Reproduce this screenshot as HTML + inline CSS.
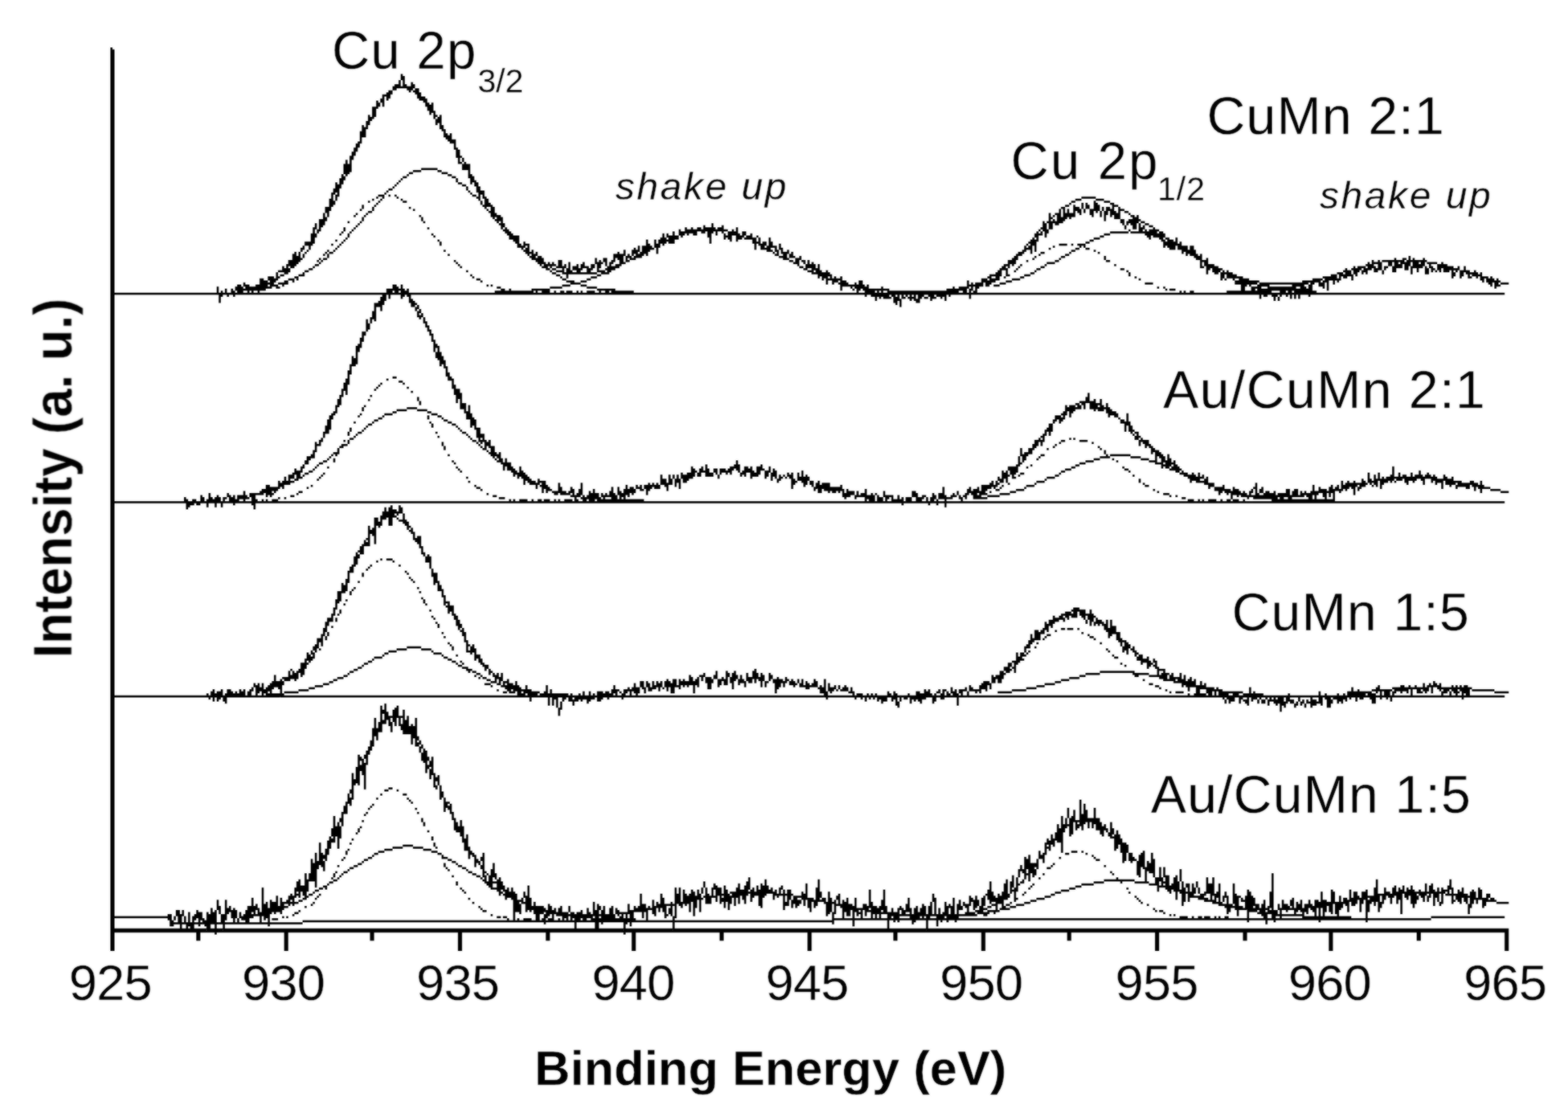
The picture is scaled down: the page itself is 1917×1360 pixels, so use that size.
<!DOCTYPE html>
<html lang="en"><head><meta charset="utf-8"><title>Cu 2p XPS spectra</title>
<style>
html,body{margin:0;padding:0;background:#fff;}
body{width:1917px;height:1360px;overflow:hidden;}
svg{display:block;}
text{font-family:"Liberation Sans",sans-serif;fill:#000;}
#plot path{fill:none;stroke:#000;stroke-width:1;stroke-linecap:butt;}
#labels text{stroke:#fff;stroke-width:0.3px;paint-order:fill stroke;}
</style></head><body>
<svg width="1917" height="1360" viewBox="0 0 1917 1360">
<defs>
<filter id="soft" filterUnits="userSpaceOnUse" x="0" y="0" width="1917" height="1360" color-interpolation-filters="sRGB"><feGaussianBlur in="SourceGraphic" stdDeviation="1.0" result="b"/><feComposite in="SourceGraphic" in2="b" operator="arithmetic" k1="0" k2="0.45" k3="0.55" k4="0"/></filter>
<filter id="softt" filterUnits="userSpaceOnUse" x="0" y="0" width="1917" height="1360" color-interpolation-filters="sRGB"><feGaussianBlur in="SourceGraphic" stdDeviation="1.1" result="b"/><feComposite in="SourceGraphic" in2="b" operator="arithmetic" k1="0" k2="0.4" k3="0.6" k4="0"/></filter>
</defs>
<rect width="1917" height="1360" fill="#fff"/>
<g id="plot" filter="url(#soft)">
<g transform="translate(0 0.4) scale(2.49935 2.50000)">
<path d="M54.5 23v442m1 -441v441m141 -429v3m1 -2v6m-2 -4v4m6 -3v4m-8 -3v3m1 -3v2m4 -2v2m4 -2v2m-10 -1v2m3.5 -1.5h1m2 0h2m-2 1h2m2.5 -.5v3m1 -3v5m-14 -4v4m1 -4v2m8.5 -1.5h1m1 0h1m-13.5 .5v4
m16 -4v4m-18 -3v6m.5 -5.5h1m17 1h2m-21.5 .5v2m19.5 -1.5h3m-24.5 .5v4m22.5 -3.5h2m-23.5 .5v2m22.5 -1.5h2m1.5 -.5v5m-3.5 -3.5h3m-28.5 .5v6m1 -6v5m25.5 -4.5h2m-2 1h2m-.5 .5v2m2 -2v4
m-32 -2v5m32.5 -4.5h1m1.5 -.5v7m-34 -6v2m33 -2v3m-1 -2v3m-34 -2v4m-2 -2v6m39 -6v3m-38 -2v5m39 -4v4m-41 -3v6m42 -5v3m2 -3v5m-1 -4v3m1.5 -.5h2m-47.5 .5v3m45.5 -2.5h2m-48.5 .5v4
m48 -4v3m-49 -1v4m50 -4v5m1 -4v7m-52 -6v4m-1 -2v8m53.5 -7.5h1m.5 .5v2m-57 -1v8m55.5 -6.5h1m1.5 -.5v4m-59 -3v5m2 -5v5m56 -5v3m2 -3v3m1 -3v7m-23.5 -4.5h8m-12 1h4m8 0h2m-16 1h2m14 0h3
m-51.5 .5v5m31.5 -4.5h1m19 0h2m9.5 -.5v5m-62 -4v2m28.5 -1.5h2m22 0h2m8.5 -.5v3m-65 -2v5m29.5 -4.5h1m26.5 -.5v2m-28.5 -.5h1m36.5 -.5v3m-68 -2v5m29.5 -4.5h1m29 0h2m7.5 -.5v5m-68 -4v6
m27.5 -5.5h1m32 0h2m-36 1h1m35.5 -.5v2m6 -2v7m-71 -6v3m26.5 -2.5h2m-3 1h1m39 0h1m5 0h2m-74.5 .5v7m25.5 -6.5h1m41 0h1m4 0h2m-72.5 .5v3m20.5 -2.5h3m2 0h1m2 0h1m37 0h2m3.5 -.5v2
m-52.5 -.5h1m2 0h1m6 0h1m38 0h1m3.5 -.5v6m291.5 -5.5h7m-374.5 .5v6m20.5 -5.5h1m3 0h1m9 0h1m41.5 -.5v4m287.5 -3.5h3m7 0h4m-376.5 .5v2m16.5 -1.5h1m4 0h1m11 0h2m36.5 -.5v2
m288.5 -1.5h2m9.5 -.5v5m4.5 -4.5h3m-359 1h1m54.5 -.5v2m283.5 -1.5h1m5.5 -.5v3m2 -3v3m5 -3v5m6.5 -4.5h2m-367.5 .5v2m5.5 -1.5h1m52 0h1m3.5 -.5v6m280.5 -5.5h2m2.5 -.5v6m7 -6v2m5 -2v3
m7 -3v5m.5 -4.5h2m-387.5 .5v3m1 -3v5m22 -5v2m17.5 -1.5h1m40.5 -.5v6m277.5 -5.5h2m5 0h2m11.5 -.5v2m2 -2v4m1 -4v2m5 -2v6m-371.5 -4.5h1m25 0h1m35 0h1m279.5 -.5v7m2 -7v6m2 -6v4
m3.5 -3.5h3m1.5 -.5v2m3 -2v3m1 -3v4m9 -4v4m4.5 -3.5h2m-370 1h2m57 0h1m287 0h2m9.5 -.5v3m2 -3v5m5 -5v4m4.5 -3.5h2m-393.5 .5v6m15.5 -5.5h1m4 0h1m62.5 -.5v2m271 -2v8m2.5 -7.5h2
m3.5 -.5v3m2 -3v3m1 -3v2m3.5 -1.5h1m17.5 -.5v3m5.5 -2.5h1m-380 1h1m4 0h1m26 0h1m37.5 -.5v4m1 -4v3m270.5 -2.5h1m1.5 -.5v5m35.5 -4.5h2m1.5 -.5v4m-397 -3v2m18 -2v2m29 -2v2m39 -2v6
m268.5 -5.5h1m4.5 -.5v3m35 -3v6m1 -6v6m-399 -5v6m1 -6v4m84.5 -3.5h1m272.5 -.5v2m32.5 -1.5h2m2 0h2m3 0h1m-388 1h1m5 0h1m30 0h1m302.5 -.5v5m1.5 -4.5h1m1.5 -.5v4m2 -4v2m31.5 -1.5h2
m1 0h3m4 0h2m-405.5 .5v3m20.5 -2.5h1m68 0h1m1.5 -.5v2m102 -2v5m163 -5v7m37.5 -6.5h1m1 0h1m1 0h1m3.5 -.5v5m2.5 -4.5h2m-388 1h1m169.5 -.5v4m9 -4v4m197 -4v2m9 -2v2m2.5 -1.5h2
m-410.5 .5v8m15 -8v2m4.5 -1.5h1m35 0h1m37.5 -.5v3m88 -3v3m3 -3v3m2.5 -2.5h2m2 0h3m1.5 -.5v2m1.5 -1.5h2m7.5 -.5v7m148.5 -6.5h1m48.5 -.5v3m6 -3v5m-409 -4v2m16.5 -1.5h1m73 0h1
m1.5 -.5v3m84 -3v3m4 -3v3m1 -3v2m1.5 -1.5h5m1 0h3m2 0h3m1 0h2m2.5 -.5v3m149.5 -2.5h1m3.5 -.5v2m39.5 -1.5h1m7.5 -.5v3m2 -3v5m1 -5v3m2 -3v4m.5 -3.5h1m-400 1h1m3 0h1m77.5 -.5v4
m80 -4v6m4 -6v3m1 -3v2m4.5 -1.5h2m2 0h1m2.5 -.5v3m1 -3v6m3 -6v2m6 -2v4m1 -4v5m2 -5v2m4 -2v3m1 -3v2m143 -2v5m2 -5v2m33.5 -1.5h9m1 0h4m2 0h1m1.5 -.5v3m6 -3v4m1 -4v5m-416 -4v6m2 -6v2
m11.5 -1.5h1m3.5 -.5v2m40.5 -1.5h1m38.5 -.5v3m74 -3v6m2 -6v2m12.5 -1.5h2m13.5 -.5v3m7 -3v3m6 -3v3m139 -3v2m1.5 -1.5h1m31 0h3m23.5 -.5v2m3 -2v2m-357.5 -.5h1m38 0h3m73.5 -.5v4m1 -4v4
m1.5 -3.5h2m23 0h1m6.5 -.5v2m2.5 -1.5h2m3 0h1m167 0h2m-371 1h1m81 0h3m69.5 -.5v3m2 -3v3m4.5 -2.5h2m32 0h3m1.5 -.5v3m1 -3v6m2 -6v4m5 -4v7m129 -7v4m29.5 -3.5h3m32 0h2m3.5 -.5v4
m-411.5 -2.5h1m3 0h1m45 0h1m36 0h3m62.5 -.5v8m4 -8v4m2 -4v4m3.5 -3.5h1m177.5 -.5v7m2 -7v6m26.5 -5.5h2m34.5 -.5v4m2 -4v4m1 -4v5m1 -5v5m-424.5 -3.5h3m15 0h1m47.5 -.5v2m36.5 -1.5h2
m2.5 -.5v3m113.5 -2.5h1m2.5 -.5v4m1 -4v2m3 -2v3m125.5 -2.5h1m27 0h2m37.5 -.5v2m4 -2v4m3 -4v4m-428.5 -2.5h3m10 0h1m3 0h1m86 0h2m2 0h2m58.5 -.5v4m4 -4v5m51 -5v3m9 -3v3m120.5 -2.5h1
m15 0h4m2 0h1m2 0h4m45.5 -.5v3m-428 -2v2m3 -2v2m13.5 -1.5h1m87 0h3m2.5 -.5v5m54 -5v3m2 -3v5m1 -5v4m3 -4v2m57 -2v3m2.5 -2.5h2m121.5 -.5v3m2 -3v2m11.5 -1.5h1m12 0h1m1 0h1m47.5 -.5v4
m1 -4v3m1 -3v5m2 -5v5m1 -5v5m-436 -4v2m16.5 -1.5h1m90 0h1m1.5 -.5v3m53 -3v3m8.5 -2.5h1m54 0h1m4.5 -.5v2m3 -2v3m119.5 -2.5h1m10 0h1m12 0h2m3 0h2m-383 1h1m9 0h1m2 0h1m53 0h1m38 0h1
m3.5 -.5v5m45 -5v3m4 -3v3m2 -3v4m65.5 -3.5h1m2.5 -.5v3m5 -3v2m115 -2v2m23.5 -1.5h2m9 0h1m45.5 -.5v2m3 -2v4m-440 -3v7m2 -7v5m2.5 -4.5h1m9 0h1m1 0h2m96 0h1m2.5 -.5v2m40 -2v4m11 -4v3
m64.5 -2.5h1m4.5 -.5v4m1 -4v4m3 -4v3m110.5 -2.5h2m9 0h2m12 0h1m13 0h1m-394.5 .5v7m5 -7v2m9.5 -1.5h1m1.5 -.5v2m58.5 -1.5h1m41.5 -.5v3m39 -3v4m1 -4v2m2 -2v6m1 -6v5m3 -5v2m5 -2v2
m66.5 -1.5h1m6.5 -.5v2m110.5 -1.5h3m8 0h1m12 0h2m62.5 -.5v3m2 -3v7m-442 -6v4m113.5 -3.5h1m3.5 -.5v4m1 -4v5m42 -5v3m2 -3v2m2 -2v2m70.5 -1.5h2m5 0h1m2.5 -.5v2m105 -2v4m1 -4v2
m8.5 -1.5h1m12 0h2m19.5 -.5v2m46 -2v2m103 -2v5m-542.5 -3.5h1m8 0h1m1 0h2m102.5 -.5v2m3 -2v3m26 -3v3m3.5 -2.5h2m12 0h1m75 0h1m3.5 -.5v3m1 -3v4m105 -4v4m9.5 -3.5h1m12 0h1m71.5 -.5v8
m92 -8v7m4 -7v3m.5 -2.5h1m3.5 -.5v5m5 -5v4m-555 -3v3m1 -3v4m12.5 -3.5h1m1 0h1m64 0h1m50.5 -.5v4m1 -4v4m19 -4v4m1.5 -3.5h2m2.5 -.5v2m7.5 -1.5h1m78 0h2m4 0h2m1.5 -.5v4m98 -4v4m1 -4v2
m7.5 -1.5h1m13 0h2m23 0h2m45 0h2m81.5 -.5v4m3 -4v5m1.5 -4.5h6m1.5 -.5v4m.5 -3.5h2m2.5 -.5v5m1.5 -4.5h1m1 0h4m1 0h1m-542 1h1m66 0h1m42.5 -.5v3m2 -3v2m2 -2v2m8 -2v6m7 -6v3m7 -3v5
m1.5 -4.5h1m1.5 -.5v2m2 -2v5m6.5 -4.5h1m82 0h1m4 0h1m3.5 -.5v6m114.5 -5.5h4m73.5 -.5v2m80 -2v4m2.5 -3.5h2m1.5 -.5v4m3.5 -3.5h2m4.5 -.5v3m2 -3v4m5 -4v3m1 -3v5m2 -5v3m2.5 -2.5h5
m2.5 -.5v3m-565 -2v5m13.5 -4.5h2m68 0h1m42.5 -.5v3m2 -3v2m1.5 -1.5h1m4.5 -.5v2m6 -2v5m2 -5v3m5 -3v3m1 -3v2m10.5 -1.5h2m91.5 -.5v3m2 -3v2m2 -2v3m2 -3v7m91 -7v3m.5 -2.5h1m6 0h1
m11 0h1m33 0h1m45 0h3m74 0h1m1.5 -.5v3m8.5 -2.5h2m3.5 -.5v2m10 -2v2m5 -2v2m4 -2v3m1 -3v4m2 -4v4m1 -4v4m-569 -3v3m14.5 -2.5h1m71 0h1m39 0h1m6 0h1m2.5 -.5v4m4.5 -3.5h2m4 0h2
m9.5 -.5v4m1.5 -3.5h4m88 0h2m97.5 -.5v2m7.5 -1.5h1m10 0h2m77 0h1m2 0h5m66.5 -.5v4m1.5 -3.5h4m4.5 -.5v3m4.5 -2.5h2m2.5 -.5v3m9 -3v4m7 -4v4m3 -4v3m7.5 -2.5h3m2.5 -.5v2m3 -2v3
m-577 -2v3m2 -3v2m9.5 -1.5h2m115 0h1m1 0h2m5.5 -.5v5m2.5 -4.5h2m1.5 -.5v3m4 -3v3m1 -3v3m7.5 -2.5h1m2 0h2m92 0h1m5.5 -.5v3m90 -3v4m3 -4v4m4.5 -3.5h1m9 0h2m39 0h2m41 0h1m1 0h5
m60.5 -.5v5m2.5 -4.5h1m1.5 -.5v4m.5 -3.5h2m1 0h2m4.5 -.5v2m3.5 -1.5h1m20.5 -.5v3m2.5 -2.5h1m6 0h5m-577 1h2m11 0h2m77 0h1m40 0h1m2 0h3m4.5 -.5v2m13.5 -1.5h3m99 0h2m4.5 -.5v3m3 -3v7
m84 -7v5m7.5 -4.5h1m9 0h1m44 0h1m41 0h4m1.5 -.5v4m2 -4v4m56.5 -3.5h1m1.5 -.5v3m1 -3v3m3.5 -2.5h1m1 0h3m7.5 -.5v2m25.5 -1.5h1m5 0h1m1.5 -.5v4m1.5 -3.5h1m1.5 -.5v4m1 -4v3m1.5 -2.5h2
m2.5 -.5v3m-586 -2v4m13 -4v2m121.5 -1.5h2m4 0h1m3 0h2m2 0h3m2 0h3m2 0h3m101 0h1m3.5 -.5v4m1 -4v3m2 -3v2m82 -2v4m16.5 -3.5h2m46.5 -.5v2m41.5 -1.5h2m1.5 -.5v4m1.5 -3.5h1m1.5 -.5v3
m1 -3v3m51.5 -2.5h3m9 0h1m1 0h1m42.5 -.5v2m5.5 -1.5h4m1.5 -.5v3m2 -3v4m-587.5 -2.5h2m7 0h2m82 0h1m41 0h2m18 0h2m112.5 -.5v3m78 -3v5m.5 -4.5h2m6 0h1m7 0h3m99.5 -.5v3m1 -3v2
m46.5 -1.5h3m1 0h3m3.5 -.5v3m57 -3v2m1.5 -1.5h1m2 0h1m-593 1h3m2 0h1m7 0h2m85 0h1m42 0h1m14 0h3m116.5 -.5v3m3 -3v7m71.5 -6.5h1m7 0h1m7 0h2m54 0h1m49 0h3m39 0h7m1.5 -.5v2m1.5 -1.5h1
m61 0h1m5 0h3m1.5 -.5v5m-602 -4v6m1 -6v6m2.5 -5.5h4m6 0h3m1 0h1m87 0h2m40 0h2m10 0h2m116 0h1m1.5 -.5v3m1.5 -2.5h2m69.5 -.5v4m.5 -3.5h2m2 0h2m8 0h4m58 0h1m41 0h1m6 0h5m31 0h5m1 0h7
m70.5 -.5v2m1.5 -1.5h2m1.5 -.5v2m2 -2v4m-603 -3v5m1 -5v4m2 -4v4m1 -4v3m.5 -2.5h1m4 0h2m2 0h1m91 0h1m41 0h4m3 0h3m122 0h1m2.5 -.5v3m1 -3v3m7 -3v5m1 -5v4m52 -4v4m7.5 -3.5h3m1 0h2
m5 0h3m109 0h12m21 0h9m1.5 -.5v4m.5 -3.5h2m2.5 -.5v2m1.5 -1.5h1m72 0h2m2.5 -.5v4m1.5 -3.5h1m-614.5 .5v2m11.5 -1.5h1m4 0h5m138 0h5m126 0h1m3.5 -.5v2m4 -2v3m57 -3v4m2 -4v6m1 -6v3
m1 -3v2m2.5 -1.5h2m5 0h3m68 0h4m40 0h11m1 0h24m1.5 -.5v6m.5 -5.5h1m2 0h2m2.5 -.5v4m78.5 -3.5h1m5 0h4m-621.5 .5v5m1 -5v5m3 -5v3m1 -3v5m4 -5v3m1 -3v5m7.5 -4.5h2m2 0h1m53.5 -.5v3
m1 -3v5m3 -5v7m41.5 -6.5h1m1 0h1m34 0h4m5 0h3m128 0h3m1.5 -.5v5m3 -5v3m2 -3v5m49.5 -4.5h1m1 0h1m5 0h2m2 0h3m118.5 -.5v5m1 -5v5m.5 -4.5h1m1 0h1m3 0h6m11 0h6m2.5 -.5v6m4.5 -5.5h2
m86 0h1m-627.5 .5v4m9 -4v2m3 -2v4m3.5 -3.5h3m6 0h1m3 0h2m57.5 -.5v4m48.5 -3.5h2m24 0h6m12 0h5m124 0h1m6.5 -.5v5m8 -5v5m35 -5v4m2.5 -3.5h4m93 0h1m2 0h1m42 0h5m3 0h14m2.5 -.5v4
m1 -4v4m1 -4v4m-528 -3v3m3 -3v3m5.5 -2.5h1m2 0h3m64 0h3m3 0h1m1.5 -.5v4m2 -4v4m46 -4v3m1 -3v3m3 -3v3m10.5 -2.5h9m23 0h9m116 0h1m7 0h6m1 0h3m28 0h3m1 0h6m1.5 -.5v5m95.5 -4.5h1m1 0h3
m37.5 -.5v3m1 -3v3m1.5 -2.5h21m3.5 -.5v3m-531 -2v3m6 -3v3m9 -3v2m65.5 -1.5h3m6.5 -.5v2m43.5 -1.5h3m2 0h2m1 0h11m1.5 -.5v2m2.5 -1.5h4m2.5 -.5v2m2.5 -1.5h2m1 0h3m2.5 -.5v2m2 -2v2
m2.5 -1.5h4m2.5 -.5v2m2.5 -1.5h2m1 0h11m115 0h3m1.5 -.5v3m4.5 -2.5h32m1 0h2m2 0h2m3.5 -.5v2m101 -2v2m2 -2v2m2.5 -1.5h2m16 0h7m2 0h3m2 0h8m4 0h3m1 0h2m1.5 -.5v4m.5 -3.5h2m6 0h2
m-588 1h50m1.5 -.5v5m1.5 -4.5h1m1 0h2m2 0h1m3 0h2m1 0h1m1 0h2m1 0h66m2 0h1m4 0h45m2 0h2m1 0h12m1 0h8m1 0h10m1 0h1m1 0h8m1 0h125m1 0h3m2 0h4m1.5 -.5v3m1.5 -2.5h34m1 0h7m1 0h1m2 0h99
m1 0h1m1 0h27m2 0h3m2 0h19m1 0h2m6 0h94m-625 1h1m75.5 -.5v5m1 -5v3m2 -3v2m10 -2v4m225.5 -3.5h3m3 0h3m1 0h2m1.5 -.5v3m2 -3v2m1.5 -1.5h1m1.5 -.5v3m2 -3v3m2 -3v4m.5 -3.5h2m2 0h3m1 0h5
m1 0h1m151.5 -.5v2m1.5 -1.5h2m2 0h3m1 0h1m2 0h1m1.5 -.5v2m4 -2v2m-449 -1v7m242 -7v2m3.5 -1.5h4m1.5 -.5v3m1 -3v4m3.5 -3.5h1m1 0h1m1 0h1m3 0h1m1 0h2m1 0h3m2 0h1m1.5 -.5v2m161 -2v2
m2 -2v2m-424 -1v4m239 -4v4m8 -4v2m6.5 -1.5h1m-270.5 .5v3m17 -3v3m-19 -2v9m1 -9v2m18.5 -1.5h1m.5 .5v2m-1 -1v2m2 -1v2m-23 -1v4m22 -4v3m2 -2v2m-1 -1v2m-24 -1v3m26 -3v3m-28 -2v6
m29 -5v3m-28 -2v3m29 -2v3m1 -1v3m-33 -2v5m1 -5v2m33 -1v4m-35 -2v5m36 -4v6m-37 -4v4m38 -4v2m-39 -1v9m40 -9v7m-1 -4v3m2 -3v7m-43 -5v5m44 -5v4m-43 -3v4m44 -3v4m-46 -2v5m47 -4v5
m-48 -3v7m49 -6v4m-27.5 -1.5h2m26.5 -.5v2m-51 -1v8m19.5 -7.5h1m31.5 -.5v5m-26.5 -3.5h2m-28.5 .5v4m17.5 -3.5h1m10 0h1m-13 1h1m36.5 -.5v5m-38.5 -3.5h1m14 0h1m-32.5 .5v4m15.5 -3.5h1
m39.5 -.5v7m1 -7v5m-23.5 -3.5h1m23.5 .5v8m307 -8v5m-366 -4v5m14.5 -4.5h1m22.5 .5v2m327 -2v3m-366 -2v4m14.5 -3.5h1m354.5 -.5v6m3 -6v6m-333 -5v2m322.5 -1.5h3m2.5 -.5v4m1 -4v4
m-308 -3v3m1 -3v5m298.5 -4.5h2m1 0h2m5.5 -.5v3m.5 -2.5h1m3.5 -.5v5m-377 -4v4m13.5 -3.5h1m50.5 -.5v7m292 -7v5m2 -5v6m1 -6v4m1 -4v3m1.5 -2.5h2m1.5 -.5v2m9 -2v3m-362 -2v2m21.5 -1.5h5
m318.5 -.5v2m3.5 -1.5h3m8.5 -.5v2m2.5 -1.5h1m1.5 -.5v5m-348.5 -3.5h5m5 0h5m334.5 -.5v3m-380 -2v2m28.5 -1.5h2m15 0h2m17.5 -.5v4m292 -4v4m23.5 -3.5h2m-383.5 .5v3m13.5 -2.5h1m11 0h4
m19 0h3m16.5 -.5v7m288.5 -6.5h1m24 0h3m4.5 -.5v6m-390 -5v7m13.5 -6.5h1m11 0h1m21.5 -.5v2m4.5 -1.5h2m300 0h3m26 0h2m-362 1h2m29 0h1m14.5 -.5v4m284.5 -3.5h4m27 0h1m-387.5 .5v7
m22.5 -6.5h2m32 0h2m13.5 -.5v5m282.5 -4.5h2m1 0h2m28 0h2m-377 1h1m8 0h1m27 0h1m8 0h2m294 0h1m2 0h1m29 0h3m1.5 -.5v5m-372.5 -3.5h2m29.5 -.5v2m9.5 -1.5h2m290.5 -.5v6m1 -6v4m36 -4v4
m-391 -3v4m19.5 -3.5h1m43 0h1m329.5 -.5v4m-382 -3v2m6.5 -1.5h1m45 0h1m8.5 -.5v5m1 -5v7m278 -7v2m-335.5 -.5h1m47 0h1m285.5 -.5v3m42.5 -2.5h1m-396.5 .5v3m12 -3v2m4.5 -1.5h2m36 0h1
m12 0h2m327 0h2m-383 1h1m53 0h1m6 0h2m273.5 -.5v4m43.5 -3.5h1m1.5 -.5v3m-383.5 -1.5h1m40 0h1m14 0h1m5 0h2m272 0h1m45.5 -.5v2m1.5 -1.5h1m-400.5 .5v2m13.5 -1.5h2m57 0h1m5.5 -.5v2
m272 -2v2m14.5 -1.5h1m1 0h1m32.5 -.5v2m-402 -1v3m11.5 -2.5h1m1.5 -.5v2m60.5 -1.5h2m2.5 -.5v2m2 -2v5m2 -5v4m267 -4v4m1 -4v3m2 -3v3m9.5 -2.5h2m7 0h4m25.5 -.5v3m1.5 -2.5h3m-407.5 .5v5
m62 -5v2m16.5 -1.5h1m4.5 -.5v2m279.5 -1.5h1m15 0h1m24 0h3m-407 1h1m11 0h3m64 0h1m270.5 -.5v3m10.5 -2.5h1m43 0h3m-397 1h2m49.5 -.5v2m17.5 -1.5h1m4.5 -.5v5m1 -5v6m273.5 -5.5h1m21 0h1
m22 0h1m1 0h2m-398.5 .5v3m70.5 -2.5h1m262.5 -.5v4m4 -4v3m1 -3v3m7.5 -2.5h1m25 0h1m24.5 -.5v3m1 -3v2m-411 -1v4m84.5 -3.5h1m301.5 -.5v2m25 -2v7m1 -7v3m-403.5 -1.5h2m74 0h1m2.5 -.5v2
m2 -2v5m257 -5v4m1 -4v2m65 -2v3m-415 -2v2m9.5 -1.5h1m1 0h1m54 0h1m23.5 -.5v2m257 -2v4m8.5 -3.5h2m30.5 -.5v2m1.5 -1.5h10m15.5 -.5v7m3 -7v7m-421 -6v4m1 -4v2m9.5 -1.5h1m336.5 -.5v5
m9.5 -4.5h1m29 0h3m1 0h1m10 0h5m11.5 -.5v3m-409.5 -1.5h1m2.5 -.5v2m78.5 -1.5h1m2.5 -.5v3m2 -3v4m259.5 -3.5h1m27 0h3m6 0h1m13 0h4m10.5 -.5v4m-423 -3v2m8.5 -1.5h2m61 0h1m21 0h1
m116.5 -.5v5m170.5 -4.5h4m11 0h1m15 0h3m5.5 -.5v4m4 -4v5m-418.5 -3.5h2m64 0h1m23.5 -.5v4m2 -4v4m1 -4v4m249.5 -3.5h1m28 0h3m35 0h2m5 0h1m-425.5 .5v2m6.5 -1.5h1m189.5 -.5v6m14 -6v2
m2 -2v4m11 -4v3m125 -3v4m6.5 -3.5h1m21 0h2m41 0h1m5.5 -.5v4m-428 -3v3m6.5 -2.5h1m5 0h1m62 0h1m26.5 -.5v3m4 -3v5m84 -5v6m5 -6v3m14 -3v4m1 -4v2m6 -2v5m1 -5v3m2 -3v6m3 -6v5m1 -5v4
m5 -4v3m116.5 -2.5h4m5 0h1m21 0h2m23 0h1m23.5 -.5v2m3 -2v3m105 -3v7m-537 -6v3m8.5 -2.5h1m70 0h1m26.5 -.5v4m88 -4v4m3 -4v4m4 -4v4m2.5 -3.5h2m1 0h3m1.5 -.5v2m10 -2v2m6.5 -1.5h1
m4.5 -.5v4m114.5 -3.5h4m24 0h3m26 0h2m20 0h1m4 0h1m-432.5 .5v5m1 -5v4m4.5 -3.5h2m72 0h1m26.5 -.5v2m3 -2v4m84.5 -3.5h1m3 0h1m4 0h2m1 0h4m7.5 -.5v2m5 -2v3m6 -3v4m1 -4v3m4 -3v4
m13 -4v6m98 -6v6m2 -6v6m1.5 -5.5h3m22 0h2m31 0h1m25.5 -.5v2m116 -2v4m-551 -3v3m5.5 -2.5h2m7 0h1m94.5 -.5v3m3 -3v6m77 -6v3m3 -3v4m1 -4v3m4 -3v2m5.5 -1.5h2m1 0h1m1 0h1m2 0h1
m6.5 -.5v2m7 -2v2m8 -2v4m8 -4v2m2 -2v8m3 -8v4m101 -4v3m2.5 -2.5h3m2 0h2m17 0h1m58 0h1m1 0h2m2.5 -.5v4m3 -4v5m83 -5v5m5 -5v4m10 -4v4m6 -4v4m8 -4v3m-557 -2v5m1 -5v2m5.5 -1.5h1m8 0h1
m99.5 -.5v3m66 -3v5m4 -5v5m2 -5v2m2 -2v4m3 -4v4m1 -4v4m11.5 -3.5h2m2.5 -.5v2m30 -2v3m1.5 -2.5h1m2.5 -.5v2m8 -2v5m98.5 -4.5h1m1.5 -.5v2m2.5 -1.5h1m17 0h2m36 0h1m24 0h4m1.5 -.5v3
m4 -3v2m84 -2v5m8 -5v4m5.5 -3.5h2m4.5 -.5v3m1 -3v2m2 -2v3m2 -3v2m2 -2v2m2 -2v3m5 -3v3m-567 -2v4m7.5 -3.5h1m8 0h1m71 0h1m29.5 -.5v3m123.5 -2.5h1m1 0h1m6.5 -.5v2m2 -2v5m2 -5v2
m93 -2v2m7.5 -1.5h1m15 0h4m65 0h2m2.5 -.5v3m1.5 -2.5h1m2.5 -.5v4m86 -4v4m2 -4v3m1 -3v2m2.5 -1.5h2m1 0h5m1.5 -.5v3m5 -3v4m4 -4v3m2 -3v4m5 -4v4m3 -4v4m-566.5 -2.5h1m10 0h1
m103.5 -.5v3m4 -3v3m61 -3v3m1 -3v4m3 -4v3m2 -3v4m2 -4v5m48 -5v2m8 -2v3m101 -3v2m21.5 -1.5h1m45.5 -.5v2m25 -2v2m7 -2v3m77 -3v4m4 -4v3m3 -3v4m2 -4v5m2 -5v2m5.5 -1.5h1m1 0h1m1 0h3
m13 0h3m2.5 -.5v3m1 -3v4m-573 -3v4m2 -4v4m2 -4v2m1.5 -1.5h2m85 0h1m30 0h2m2 0h3m122 0h1m6 0h2m2.5 -.5v6m85 -6v3m2 -3v3m19.5 -2.5h4m76 0h2m67.5 -.5v5m3 -5v4m3 -4v7m5 -7v3m3.5 -2.5h1
m10 0h1m4 0h2m14 0h3m5 0h4m4 0h2m3.5 -.5v6m-587 -5v2m122.5 -1.5h3m2.5 -.5v5m1 -5v3m7 -3v5m11 -5v6m33 -6v4m2 -4v2m2 -2v3m5 -3v4m69.5 -3.5h2m1.5 -.5v3m2.5 -2.5h4m78.5 -.5v3
m3.5 -2.5h1m4 0h1m12 0h1m52 0h1m31 0h3m20.5 -.5v8m44 -8v4m1.5 -3.5h2m1 0h3m2 0h1m19 0h1m16.5 -.5v3m5.5 -2.5h1m1 0h10m-592.5 .5v6m1 -6v5m20.5 -4.5h1m79 0h1m29.5 -.5v2m1.5 -1.5h1
m2.5 -.5v4m39 -4v5m5 -5v2m2 -2v3m1.5 -2.5h2m1.5 -.5v2m2 -2v2m2 -2v2m74.5 -1.5h1m3 0h5m5.5 -.5v3m69 -3v5m1 -5v5m1 -5v3m1 -3v2m3 -2v2m3.5 -1.5h1m11 0h4m54 0h2m29 0h3m4.5 -.5v3
m44 -3v5m9 -5v4m3 -4v3m3 -3v2m2.5 -1.5h2m1 0h1m1.5 -.5v2m5.5 -1.5h1m40 0h7m1 0h4m1.5 -.5v2m-593 -1v5m.5 -4.5h3m14 0h1m82 0h2m33.5 -.5v2m6 -2v4m5 -4v3m20 -3v8m3 -8v4m6 -4v3m1 -3v4
m2.5 -3.5h1m2 0h2m81.5 -.5v2m2.5 -1.5h10m50.5 -.5v6m13 -6v3m4 -3v3m10.5 -2.5h1m11 0h1m89 0h1m2 0h4m5.5 -.5v4m9.5 -3.5h1m3.5 -.5v3m28 -3v3m5 -3v5m3 -5v2m7.5 -1.5h1m2.5 -.5v2
m47.5 -1.5h1m4 0h2m2.5 -.5v2m1.5 -1.5h1m2 0h3m-600.5 .5v3m1 -3v2m3.5 -1.5h3m99 0h1m33 0h1m10.5 -.5v4m3 -4v4m7 -4v7m15 -7v7m2 -7v4m3 -4v2m3.5 -1.5h1m1.5 -.5v3m85 -3v2m1.5 -1.5h8
m1.5 -.5v4m2 -4v4m9 -4v7m50 -7v3m3 -3v5m1 -5v5m9.5 -4.5h2m8 0h4m63 0h1m29 0h4m1 0h3m2.5 -.5v3m1 -3v4m7 -4v2m4 -2v2m13 -2v4m1 -4v7m3 -7v4m1 -4v4m11.5 -3.5h3m3.5 -.5v7m3 -7v2
m73.5 -1.5h5m-614.5 .5v6m8 -6v2m6.5 -1.5h1m11 0h2m122 0h3m2 0h2m1.5 -.5v2m10 -2v6m10 -6v3m5 -3v6m101.5 -5.5h1m1 0h2m1 0h1m4 0h3m1.5 -.5v3m13 -3v3m14 -3v3m1 -3v3m21 -3v2m7 -2v2
m4 -2v4m4.5 -3.5h1m9 0h3m69 0h1m29 0h2m1 0h4m3.5 -.5v2m2 -2v3m3 -3v3m8 -3v4m1 -4v4m3 -4v6m9 -6v3m4 -3v3m2 -3v2m3 -2v6m2 -6v6m1 -6v2m1.5 -1.5h4m84 0h4m-635.5 .5v5m9 -5v2m10.5 -1.5h5
m6 0h1m11 0h1m92 0h1m32 0h2m2 0h3m4.5 -.5v2m7 -2v5m2 -5v3m1 -3v5m2 -5v2m2 -2v2m4 -2v5m4 -5v2m109 -2v3m1.5 -2.5h3m3 0h2m3.5 -.5v5m1.5 -4.5h1m19.5 -.5v5m8 -5v5m3 -5v3m1 -3v3m6 -3v2
m6 -2v3m9.5 -2.5h1m6 0h5m75 0h3m24 0h1m3 0h1m1.5 -.5v3m5 -3v2m2 -2v2m6 -2v3m3 -3v3m3 -3v3m1 -3v5m2.5 -4.5h4m8.5 -.5v2m1.5 -1.5h2m6 0h2m-550.5 .5v4m8 -4v4m6 -4v4m2 -4v5m2 -5v4
m.5 -3.5h2m1.5 -.5v2m1.5 -1.5h3m17 0h2m97 0h2m36 0h1m1.5 -.5v4m4 -4v4m2 -4v2m8 -2v4m1.5 -3.5h1m3.5 -.5v4m113.5 -3.5h1m2.5 -.5v2m1.5 -1.5h3m1 0h2m1.5 -.5v4m2 -4v4m3.5 -3.5h4
m2.5 -.5v4m11.5 -3.5h2m4.5 -.5v2m5 -2v6m3 -6v2m1.5 -1.5h1m1.5 -.5v2m1.5 -1.5h1m6.5 -.5v2m4.5 -1.5h6m83 0h1m2 0h1m34.5 -.5v2m1.5 -1.5h2m2 0h2m6 0h5m2.5 -.5v4m3.5 -3.5h1m3 0h2m6 0h2
m-558.5 .5v3m9 -3v3m4 -3v3m2 -3v5m2 -5v3m2 -3v3m.5 -2.5h1m2.5 -.5v3m3.5 -2.5h2m2 0h1m1.5 -.5v4m1 -4v6m11.5 -5.5h1m2 0h1m104 0h3m37 0h1m1.5 -.5v3m7 -3v3m130.5 -2.5h2m4.5 -.5v3
m1 -3v3m2 -3v3m.5 -2.5h1m1.5 -.5v3m5 -3v4m1.5 -3.5h3m3 0h3m1.5 -.5v3m2 -3v3m7.5 -2.5h2m5.5 -.5v3m9.5 -2.5h3m95 0h2m33 0h1m2 0h2m6.5 -.5v3m2 -3v3m1 -3v3m13 -3v3m8 -3v3m-557 -2v5
m3 -5v3m1 -3v2m6 -2v4m3 -4v2m11 -2v2m10 -2v2m3 -2v2m2 -2v2m2.5 -1.5h3m113.5 -.5v2m2 -2v2m2.5 -1.5h4m2.5 -.5v2m2.5 -1.5h2m1 0h3m2.5 -.5v2m2 -2v2m2.5 -1.5h4m2.5 -.5v2m12 -2v2
m1.5 -1.5h3m3.5 -.5v2m2 -2v2m1.5 -1.5h9m110.5 -.5v2m11.5 -1.5h2m1.5 -.5v2m2.5 -1.5h3m3 0h2m7.5 -.5v3m122.5 -2.5h3m2.5 -.5v2m2 -2v2m2.5 -1.5h4m2.5 -.5v2m2.5 -1.5h2m1 0h3m2.5 -.5v2
m17 -2v2m2.5 -1.5h2m2 0h8m2.5 -.5v2m1.5 -1.5h4m1 0h3m-596 1h34m2.5 -.5v3m1 -3v2m2.5 -1.5h2m2 0h1m7.5 -.5v3m1.5 -2.5h2m5 0h2m1 0h3m3 0h2m1 0h1m1 0h118m1 0h1m1 0h8m1 0h10m1 0h1m1 0h7
m2 0h2m2 0h1m3 0h1m4 0h3m7 0h117m1 0h1m3 0h1m3 0h1m1 0h2m1 0h2m3 0h6m1 0h4m1.5 -.5v2m2.5 -1.5h1m1 0h3m1 0h7m1 0h115m1 0h1m1 0h8m1 0h10m1 0h13m6 0h2m2 0h8m4 0h4m1 0h3m1 0h83
m-640 1h2m93.5 .5v10m4 -10v4m-7 -3v6m2 -6v9m6 -9v3m-4 -2v4m1 -4v2m-6 -1v4m2 -4v3m5 -3v2m3 -1v5m-11 -4v5m6.5 -4.5h1m-10.5 .5v13m1 -13v4m9.5 -3.5h1m0 1h2m1.5 -.5v3m-13 -2v3m14 -3v4
m-19 -2v10m19.5 -9.5h1m-18.5 .5v4m19 -4v3m-20 -2v2m18.5 -1.5h1m1.5 .5v4m2 -2v4m1 -4v6m-26.5 -4.5h1m23.5 -.5v2m-25 -1v3m1 -2v2m-2 -1v5m-1 -4v4m30 -4v4m-31.5 -1.5h1m-1.5 .5v6m33 -6v2
m-32 -1v2m34 -2v4m-36 -3v5m35 -5v3m2 -3v6m-24.5 -4.5h1m2 0h3m-8 1h1m7 0h1m-20.5 1.5v4m8.5 -3.5h1m13 0h1m-24.5 .5v3m8.5 -2.5h1m-2 1h1m31.5 -.5v4m-41 -3v6m27.5 -5.5h1m-21.5 .5v2
m21.5 -1.5h1m12.5 -.5v6m1 -6v5m-13.5 -2.5h1m-31.5 .5v6m31.5 -5.5h1m-27 1h1m26 0h1m11.5 -.5v5m-47 -4v5m1 -4v4m47 -4v3m-42.5 -1.5h1m30 0h1m-33 1h1m43.5 -.5v4m-51 -3v6m1 -6v5m5 -5v2
m33.5 -1.5h1m11.5 1.5v5m-11.5 -3.5h1m-42.5 .5v5m4.5 -4.5h1m37.5 -.5v2m10.5 -.5h2m-52 1h1m39 0h1m10.5 -.5v5m-1.5 -3.5h1m1.5 -.5v3m1 -3v5m-58 -4v4m362 -4v5m1 -5v5m1 -5v2m-361 -1v2
m43.5 -1.5h1m313 0h1m3 0h3m2.5 -.5v8m-12.5 -6.5h3m4 0h3m-368.5 .5v4m2.5 -3.5h1m56.5 -.5v3m296.5 -2.5h6m3 0h5m1.5 -.5v4m-323.5 -2.5h1m11.5 -.5v5m292 -5v4m2.5 -3.5h2m1 0h2m1 0h1
m4 0h2m1.5 -.5v2m2.5 -1.5h1m-375.5 .5v4m1 -4v2m3 -2v2m47.5 -1.5h1m303 0h5m1 0h1m7 0h1m5.5 -.5v3m-312 -2v5m289 -5v3m1 -3v4m1.5 -3.5h2m2 0h1m10.5 -.5v2m6 -2v3m1 -3v2m3 -2v6m2 -6v8
m-384 -7v5m53.5 -4.5h1m297.5 -.5v4m24 -4v2m4 -2v2m-325 -1v2m11 -2v2m287 -2v4m28 -4v3m-378.5 -1.5h1m381.5 -.5v4m1 -4v4m-387 -3v4m68 -4v4m284 -4v3m8.5 -2.5h2m1 0h3m2 0h1m14.5 -.5v5
m-317.5 -3.5h1m280.5 -.5v5m1 -5v5m2 -5v2m6.5 -1.5h1m-356.5 .5v2m55.5 -1.5h1m10.5 -.5v5m281 -5v4m20.5 -3.5h1m16.5 -.5v4m1 -4v5m-390 -4v6m347 -6v5m7.5 -4.5h2m18 0h1m-373.5 .5v2
m57.5 -1.5h1m293 0h1m21 0h2m-379.5 .5v5m1 -5v2m349 -2v2m4.5 -1.5h1m24 0h1m12.5 -.5v4m-320 -3v6m275 -6v4m45.5 -3.5h2m-332 1h1m287 0h1m30 0h1m11.5 -.5v4m1 -4v6m-397 -5v4m65.5 -3.5h1
m8 0h1m1.5 -.5v4m271 -4v2m50 -2v2m-399 -1v2m45.5 -1.5h7m15.5 -.5v2m9 -2v4m271 -4v3m4.5 -2.5h1m42.5 -.5v3m5 -3v3m-398.5 -1.5h1m37 0h5m7 0h5m21.5 -.5v6m308.5 -5.5h1m11 0h1
m-401.5 .5v2m37.5 -1.5h4m17 0h1m17 0h1m273 0h1m38 0h1m12.5 -.5v3m-405 -2v4m3 -4v3m34.5 -2.5h2m22 0h4m281.5 -.5v6m2 -6v4m1 -4v2m1.5 -1.5h1m53 0h1m-405.5 .5v4m35.5 -3.5h1m28 0h1
m6 0h1m9 0h2m266 0h1m42 0h1m12.5 -.5v3m1 -3v5m-406 -4v2m30.5 -1.5h4m30 0h2m14 0h2m263.5 -.5v3m46.5 -2.5h2m9.5 -.5v2m5 -2v6m-412 -5v5m32.5 -4.5h1m36 0h2m13 0h2m264 0h1m58 0h2
m3.5 -.5v2m-384.5 -.5h2m39 0h2m2 0h1m8 0h2m259 0h2m62 0h2m1.5 -.5v3m3 -3v4m-418 -3v7m1 -7v6m1.5 -5.5h1m27 0h2m43 0h1m2 0h1m8 0h2m256.5 -.5v5m1 -5v2m2 -2v5m51.5 -4.5h1m14 0h1
m-387 1h1m46 0h2m10 0h3m311 0h1m13 0h1m-390 1h2m49 0h3m8 0h2m252 0h2m2 0h1m70.5 -.5v5m-424.5 -3.5h1m3.5 -.5v2m26.5 -1.5h2m53 0h3m6 0h1m1.5 -.5v3m130 -3v7m121.5 -6.5h2m1 0h1m72 0h3
m-428.5 .5v5m2 -5v4m2 -4v4m25.5 -3.5h2m56 0h1m1 0h2m7 0h1m109.5 -.5v4m5 -4v7m4 -7v5m9 -5v4m121 -4v6m1 -6v4m1.5 -3.5h1m45 0h17m14.5 -.5v5m-425 -4v4m25.5 -3.5h1m62 0h2m6.5 -.5v2
m2 -2v3m2 -3v4m99 -4v2m12 -2v2m2 -2v8m7 -8v4m5 -4v3m2 -3v7m4 -7v4m114.5 -3.5h1m39 0h7m16 0h8m6.5 -.5v3m2 -3v4m.5 -3.5h1m1.5 -.5v4m4 -4v5m-443 -4v6m8 -6v2m25.5 -1.5h2m62 0h1m2 0h1
m6.5 -.5v4m95 -4v5m4.5 -4.5h2m5.5 -.5v2m11 -2v2m2 -2v4m11 -4v3m4 -3v2m108 -2v4m1.5 -3.5h2m39 0h3m24 0h2m5 0h4m1.5 -.5v2m5 -2v3m7 -3v5m-441.5 -3.5h3m24 0h3m66 0h1m1 0h2m6.5 -.5v4
m94 -4v4m3 -4v5m2 -5v2m1.5 -1.5h3m5.5 -.5v2m4 -2v3m9 -3v3m1 -3v3m4 -3v2m9 -2v6m4 -6v3m101.5 -2.5h3m34 0h5m46 0h3m5.5 -.5v5m-445 -4v9m1.5 -8.5h2m22 0h2m73 0h2m8.5 -.5v6m78 -6v6
m3 -6v7m1 -7v4m2 -4v5m2 -5v4m6 -4v3m4.5 -2.5h4m2.5 -.5v4m1 -4v3m2 -3v3m7 -3v3m2 -3v2m14.5 -1.5h2m1.5 -.5v4m1 -4v2m2.5 -1.5h1m1.5 -.5v3m3 -3v2m2 -2v4m6 -4v4m5 -4v9m83 -9v2m2 -2v2
m30.5 -1.5h4m36 0h1m11 0h1m2.5 -.5v2m2 -2v2m2 -2v4m3 -4v6m3 -6v4m-451 -3v4m2 -4v3m1 -3v4m2 -4v2m22.5 -1.5h2m77 0h2m4.5 -.5v3m.5 -2.5h1m4.5 -.5v5m61 -5v3m1 -3v4m2 -4v3m3 -3v4m2 -4v3
m2 -3v3m2 -3v3m2 -3v3m6 -3v2m1.5 -1.5h2m2.5 -.5v6m5.5 -5.5h4m15.5 -.5v3m10 -3v3m.5 -2.5h1m2 0h2m3.5 -.5v3m3 -3v2m2 -2v3m6 -3v4m5 -4v3m82 -3v4m1 -4v5m1 -5v2m32.5 -1.5h3m56 0h1
m4.5 -.5v3m3 -3v3m4 -3v4m114 -4v3m-577 -2v2m2 -2v5m2 -5v7m4 -7v7m25.5 -6.5h3m76 0h3m3 0h1m5.5 -.5v5m1 -5v3m60 -3v5m7 -5v4m5 -4v4m6 -4v5m6.5 -4.5h2m9.5 -.5v3m1 -3v3m32 -3v5
m9.5 -4.5h1m1.5 -.5v2m4 -2v3m2 -3v2m8 -2v4m75 -4v3m4 -3v3m26.5 -2.5h5m46 0h2m25.5 -.5v3m107 -3v4m3 -4v2m3 -2v2m2 -2v4m-579 -3v6m6 -6v3m22.5 -2.5h4m82 0h1m4 0h1m1.5 -.5v2m4 -2v4
m2 -4v6m4 -6v4m10 -4v6m33 -6v4m20 -4v2m10.5 -1.5h1m4 0h1m56 0h1m2 0h1m4.5 -.5v4m7 -4v2m2 -2v2m3 -2v3m61 -3v3m5 -3v4m27.5 -3.5h4m54 0h2m18.5 -.5v6m1 -6v6m2 -6v2m86 -2v3m11 -3v4
m1 -4v3m3 -3v2m3 -2v2m6 -2v3m2 -3v4m3 -4v2m7 -2v3m2 -3v6m2 -6v3m2 -3v4m1 -4v6m-594 -5v2m4 -2v2m3 -2v5m20.5 -4.5h3m100.5 -.5v5m53 -5v2m2 -2v2m2 -2v5m1 -5v3m3 -3v3m3 -3v2m5.5 -1.5h1
m75 0h1m1.5 -.5v3m4 -3v3m1 -3v2m5 -2v2m2 -2v2m2 -2v3m49 -3v3m7 -3v2m3 -2v2m26.5 -1.5h5m60 0h1m22 0h4m1.5 -.5v2m16 -2v5m50 -5v5m12 -5v3m7.5 -2.5h4m2 0h2m1.5 -.5v5m.5 -4.5h1m1 0h3
m1.5 -.5v3m7.5 -2.5h5m1.5 -.5v3m1.5 -2.5h1m1.5 -.5v6m3 -6v5m.5 -4.5h1m-615.5 .5v6m4 -6v4m3 -4v4m1 -4v4m5 -4v4m2 -4v4m3 -4v4m7 -4v2m16.5 -1.5h5m92 0h1m11 0h2m1.5 -.5v4m1 -4v6
m10 -6v4m30 -4v4m2 -4v4m.5 -3.5h1m2.5 -.5v4m1 -4v2m2 -2v4m100.5 -3.5h1m1 0h1m40.5 -.5v5m2 -5v4m5 -4v2m2 -2v5m.5 -4.5h1m4.5 -.5v4m1.5 -3.5h3m4 0h3m16 0h7m68 0h1m19 0h5m1.5 -.5v4
m1 -4v4m67 -4v4m6.5 -3.5h2m2 0h6m1 0h3m2 0h2m4 0h2m11 0h3m11 0h11m-627.5 .5v3m3 -3v5m1 -5v4m6 -4v3m2 -3v3m3 -3v3m3 -3v3m17.5 -2.5h7m100 0h2m2 0h1m5.5 -.5v3m3.5 -2.5h4m2.5 -.5v3
m19 -3v4m3 -4v5m4 -5v5m1 -5v5m1 -5v4m2 -4v3m1 -3v4m5.5 -3.5h1m100.5 -.5v4m10.5 -3.5h1m1.5 -.5v3m17 -3v3m3 -3v4m11 -4v4m1 -4v5m4 -5v3m4.5 -2.5h1m4.5 -.5v3m3 -3v3m2.5 -2.5h2
m2.5 -.5v3m3.5 -2.5h1m10 0h7m77 0h1m2 0h4m11 0h3m1.5 -.5v3m3.5 -2.5h10m5.5 -.5v4m32 -4v6m14 -6v3m1 -3v4m2 -4v3m1 -3v5m1.5 -4.5h6m4.5 -.5v4m1.5 -3.5h3m1.5 -.5v3m.5 -2.5h1m5 0h1
m4 0h3m9 0h3m1.5 -.5v3m3.5 -2.5h1m17 0h7m-636.5 .5v2m4 -2v2m5 -2v5m4 -5v2m2 -2v2m15 -2v2m1.5 -1.5h4m1.5 -.5v2m117 -2v2m4.5 -1.5h3m1 0h2m2.5 -.5v6m1.5 -5.5h8m1.5 -.5v4m4 -4v3m7 -3v3
m5 -3v2m3 -2v2m6 -2v3m114.5 -2.5h3m2.5 -.5v2m2 -2v2m2 -2v2m7 -2v2m3 -2v6m6 -6v2m6 -2v5m1 -5v3m4 -3v2m2 -2v4m3 -4v3m4 -3v2m4 -2v6m2 -6v2m111 -2v2m3 -2v2m2.5 -1.5h3m1 0h2m5 0h3
m2.5 -.5v4m.5 -3.5h2m2 0h3m1.5 -.5v4m1.5 -3.5h4m12.5 -.5v4m18 -4v3m6 -3v5m3 -5v3m7.5 -2.5h3m1 0h4m4 0h3m25.5 -.5v2m-649.5 -.5h45m1.5 -.5v2m7 -2v3m10.5 -2.5h1m2 0h2m1 0h2m1 0h1
m3 0h4m2 0h114m4 0h1m2 0h6m4 0h9m1 0h3m1.5 -.5v3m1.5 -2.5h2m1.5 -.5v2m1.5 -1.5h1m8 0h1m1 0h2m2 0h2m1 0h2m1 0h91m2 0h12m1 0h6m1.5 -.5v2m2 -2v2m1.5 -1.5h5m2.5 -.5v3m2.5 -2.5h5
m1.5 -.5v4m.5 -3.5h2m8.5 -.5v4m1.5 -3.5h2m2 0h1m2 0h1m3 0h1m1 0h2m1 0h107m1 0h2m3 0h7m1 0h1m2 0h5m1 0h7m3 0h16m1 0h14m1.5 -.5v5m.5 -4.5h1m1.5 -.5v6m1 -6v6m.5 -5.5h3m1.5 -.5v3
m1 -3v4m2 -4v3m6.5 -2.5h10m1 0h5m1 0h8m1 0h14m1 0h3m1 0h2m1 0h2m1 0h1m2 0h17m-465.5 .5v4m.5 -3.5h2m2 0h2m1.5 -.5v2m2.5 -1.5h2m3 0h2m130 0h1m2 0h1m1.5 -.5v2m5.5 -1.5h5m6.5 -.5v2
m1.5 -1.5h2m2 0h2m150 0h1m1 0h3m3.5 -.5v3m.5 -2.5h1m2.5 -.5v4m3.5 -3.5h1m1 0h1m2 0h1m1.5 -.5v2m2 -2v3m1.5 -2.5h3m1.5 -.5v3m6 -3v2m6 -2v5m10.5 -4.5h2m11 0h2m3 0h3m5 0h1m1.5 -.5v2
m-408 -1v4m2.5 -3.5h1m4 0h3m4.5 -.5v2m141.5 -1.5h1m1 0h3m13 0h1m151.5 -.5v2m1.5 -1.5h2m5 0h2m5.5 -.5v2m1.5 -1.5h2m1.5 -.5v3m1.5 -2.5h1m1 0h4m3 0h2m4.5 -.5v2m2 -2v2m3 -2v3m1 -3v3
m8 -3v2m19.5 -1.5h2m-398.5 .5v4m6 -4v2m150.5 -1.5h1m7.5 -.5v3m161.5 -2.5h1m7 0h1m7 0h2m5 0h5m2 0h2m1.5 -.5v2m2 -2v2m3.5 -1.5h1m3 0h1m26 0h2m-484.5 .5v10m435.5 -9.5h1m1.5 -.5v4
m.5 -3.5h2m4.5 -.5v2m5 -2v2m-452 -1v13m8 -13v6m433.5 -5.5h1m-435.5 .5v9m80 -9v4m-86 -3v2m5 -2v6m5 -6v12m-8 -11v4m1 -2v5m.5 -4.5h1m3.5 -.5v5m.5 -4.5h1m2.5 -.5v9m-16 -8v9m20 -9v14
m-16 -13v2m11 -2v7m-13 -6v5m6 -5v5m5 -4v3m5 -3v10m-1 -9v4m2 -4v6m-20 -5v9m2 -9v6m20 -2v2m-23 0v5m24 -5v2m-1 -1v2m2 -1v2m-26 -1v4m25 -4v3m2 -2v7m-28 -6v7m29 -7v11m-2 -10v4m-31 -3v15
m3 -15v2m-2 -1v2m33 -2v2m2 -2v9m-34 -8v8m33 -7v3m-32 -2v13m-2 -12v3m33 -3v2m-35 -1v8m36 -7v5m-38 -3v13m40 -13v7m2 -6v5m-1 -4v2m-40 -1v3m40 0v2m2 -2v7m-25.5 -5.5h2m-20.5 .5v2
m16.5 -1.5h2m4 0h1m21.5 .5v3m-46 -2v5m15.5 -4.5h1m10 0h2m-27.5 1.5v4m12.5 -3.5h1m14 0h1m17.5 -.5v7m-17.5 -5.5h1m327.5 -.5v13m-359 -12v6m31.5 -5.5h1m16.5 -.5v3m.5 -2.5h1m-38 1h1
m37.5 -.5v5m310 -5v10m-362 -9v4m12.5 -3.5h1m37.5 -.5v2m-39.5 -.5h1m22 0h1m318.5 -.5v5m13 -5v8m-10 -7v6m6 -6v6m-364 -5v7m11.5 -6.5h1m24 0h1m16.5 -.5v4m-43.5 -2.5h1m350.5 -.5v8
m-366 -7v13m356 -13v18m5 -18v9m-358 -8v2m40 -2v2m16 -2v6m299 -6v5m2 -5v9m9 -9v5m.5 -4.5h2m1.5 -.5v6m1 -6v6m-360.5 -4.5h1m47.5 -.5v8m301 -8v5m.5 -4.5h1m5 0h2m-369.5 .5v13m42 -13v2
m16 -2v5m311 -5v3m4 -3v6m5 -6v8m-26 -7v9m3 -9v4m1.5 -3.5h1m4.5 -.5v2m13 -2v3m-376 -2v5m2 -5v6m9.5 -5.5h1m47.5 -.5v3m2 -3v8m313 -8v5m-377 -4v4m13 -4v2m343 -2v7m23 -7v2m3 -2v3
m-335.5 -1.5h1m336.5 -.5v9m-372.5 -7.5h1m341.5 -.5v4m26 -4v2m-314 -1v8m286 -8v5m31 -5v8m2 -8v5m-386 -4v6m50 -6v2m332.5 -1.5h1m-382.5 .5v2m9.5 -1.5h1m54.5 -.5v6m285 -6v3m3 -3v4
m33 -4v7m-388 -6v7m353 -7v5m-357 -4v11m14.5 -10.5h1m40.5 -.5v2m299 -2v6m38 -6v10m1 -10v9m-353.5 -7.5h5m349.5 -.5v4m-359.5 -2.5h5m5 0h5m6 0h1m15.5 -.5v6m282.5 -5.5h1m-353.5 .5v6
m10.5 -5.5h1m17 0h4m15 0h4m-41.5 .5v2m15.5 -1.5h3m23 0h3m16.5 -.5v2m278 -2v4m15.5 -3.5h3m2 0h1m29.5 -.5v9m-405 -8v17m3 -17v7m25.5 -6.5h2m29 0h2m15.5 -.5v2m5 -2v12m274 -12v5
m10.5 -4.5h2m8 0h1m20.5 -.5v4m1 -4v5m5 -5v7m5 -7v10m-405 -9v2m23.5 -1.5h1m33.5 -.5v2m16 -2v6m271 -6v13m6 -13v2m24.5 -1.5h1m22.5 -.5v11m-389.5 -9.5h1m11 0h2m35 0h2m16.5 -.5v2
m266 -2v11m16.5 -10.5h1m16 0h1m18.5 -.5v2m-402 -1v11m14.5 -10.5h1m10 0h2m39 0h2m12.5 -.5v2m269 -2v5m5 -5v5m28.5 -4.5h2m17 0h1m8.5 -.5v9m-409 -8v4m3 -4v5m18.5 -4.5h1m43 0h2
m11.5 -.5v2m322 -2v7m5 -7v5m-408 -4v9m21.5 -8.5h2m40.5 -.5v2m5.5 -1.5h1m17.5 -.5v7m263 -7v5m1 -5v7m1 -7v2m8.5 -1.5h1m46.5 -.5v5m-397.5 -3.5h1m7 0h2m49 0h2m9.5 -.5v2m264 -2v3
m14.5 -2.5h1m25 0h1m-370 1h2m45 0h1m7 0h2m284 0h2m46.5 -.5v8m7 -8v7m2 -7v5m-399.5 -3.5h1m48 0h1m8 0h1m11.5 -.5v10m258 -10v4m2 -4v2m6 -2v3m71 -3v6m-413.5 -4.5h1m3 0h2m59 0h2m6 0h1
m305 0h1m-394.5 .5v13m2 -13v4m12 -4v2m3.5 -1.5h1m63 0h2m5 0h1m3.5 -.5v3m259.5 -2.5h1m7 0h1m33 0h1m77.5 -.5v23m-456.5 -21.5h1m54 0h1m11 0h2m2.5 -.5v4m2 -4v6m256 -6v6m75 -6v7m1 -7v8
m4 -8v12m-413.5 -10.5h1m2 0h1m69 0h1m8.5 -.5v9m122 -9v6m131 -6v7m10.5 -6.5h1m37.5 -.5v2m19 -2v4m1 -4v7m2 -7v5m6 -5v7m16 -7v8m3 -8v9m-447 -8v9m4 -9v6m12.5 -5.5h2m71 0h1m6.5 -.5v6
m131 -6v8m26 -8v11m92 -11v10m8 -10v2m39.5 -1.5h6m1 0h8m118.5 -.5v11m36 -11v5m-564 -4v5m15.5 -4.5h2m60.5 -.5v2m15 -2v2m2.5 -1.5h2m2.5 -.5v4m99 -4v3m21 -3v7m119 -7v11m10 -11v6
m4.5 -5.5h1m35 0h5m8 0h1m6 0h5m1 0h1m7 0h1m6.5 -.5v5m2 -5v12m7 -12v3m-425.5 -1.5h1m188.5 -.5v3m12 -3v10m11 -10v12m22 -12v8m97 -8v8m6.5 -7.5h1m6 0h1m23 0h6m27 0h3m8.5 -.5v3
m6.5 -2.5h2m1.5 -.5v7m8 -7v5m1 -5v9m4 -9v11m7 -11v10m94 -10v6m3 -6v5m-553 -4v3m1 -3v5m9.5 -4.5h2m86.5 -.5v3m12 -3v12m92 -12v8m4 -8v11m10 -11v9m6 -9v5m3 -5v6m2 -6v4m7 -4v2
m121.5 -1.5h1m21 0h3m38 0h1m1 0h1m2.5 -.5v4m7.5 -3.5h2m100.5 -.5v5m4 -5v4m4 -4v9m9 -9v6m9 -6v5m-580 -4v14m16 -14v5m11.5 -4.5h2m1 0h1m65 0h1m15 0h2m5.5 -.5v5m2 -5v6m80 -6v15m2 -15v9
m11 -9v3m2 -3v8m3 -8v5m3 -5v4m1 -4v8m8 -8v5m8 -5v5m9 -5v3m4 -3v4m18 -4v9m97 -9v7m6.5 -6.5h1m19 0h3m25 0h1m27.5 -.5v7m2 -7v7m3 -7v3m2 -3v3m86 -3v9m5 -9v6m4 -6v5m3 -5v6m4 -6v6
m15 -6v7m2 -7v8m5 -8v8m5 -8v5m8 -5v6m-569.5 -4.5h2m70 0h1m20.5 -.5v5m87 -5v7m4 -7v6m3 -6v5m14 -5v6m7 -6v3m1 -3v5m4 -5v6m4 -6v8m5 -8v2m3 -2v3m4 -3v10m2 -10v8m1 -8v5m39 -5v9m7 -9v12
m51 -12v5m11.5 -4.5h1m23 0h4m54.5 -.5v2m33 -2v16m41 -16v12m9 -12v6m8 -6v16m17 -16v12m4 -12v3m2 -3v9m3 -9v3m7 -3v8m4.5 -7.5h2m5.5 -.5v6m7 -6v7m4 -7v5m-571.5 -3.5h1m73 0h1m17 0h1
m3.5 -.5v3m2 -3v15m5 -15v3m83 -3v12m17.5 -11.5h3m6 0h1m2.5 -.5v2m9 -2v4m14 -4v4m9 -4v3m4 -3v11m80 -11v5m5 -5v9m10.5 -8.5h1m14 0h3m33 0h1m27 0h1m1.5 -.5v3m7 -3v2m6 -2v3m4 -3v3
m12 -3v10m10 -10v8m25 -8v8m6 -8v6m10 -6v7m1 -7v6m3 -6v6m1 -6v4m10.5 -3.5h2m3.5 -.5v6m4 -6v3m5 -3v6m.5 -5.5h1m1.5 -.5v3m1 -3v5m1.5 -4.5h1m3.5 -.5v3m1.5 -2.5h1m1 0h1m7.5 -.5v6m5 -6v8
m2 -8v4m-579 -3v3m2.5 -2.5h1m5 0h2m3 0h1m89 0h1m5.5 -.5v9m61 -9v9m10 -9v7m8 -7v5m4 -5v6m2 -6v9m5 -9v9m4 -9v5m6.5 -4.5h1m2.5 -.5v8m1.5 -7.5h2m20.5 -.5v2m1.5 -1.5h1m1 0h1m2 0h1
m5.5 -.5v6m17 -6v6m46 -6v4m25.5 -3.5h1m5.5 -.5v5m5 -5v2m6.5 -1.5h1m13 0h2m71.5 -.5v3m1 -3v3m6 -3v5m10 -5v8m70 -8v9m.5 -8.5h2m1 0h3m26 0h1m1 0h1m1 0h2m3.5 -.5v4m1 -4v5m10 -5v4
m1 -4v2m-593 -1v8m6 -8v5m2 -5v5m6.5 -4.5h1m4 0h1m101.5 -.5v8m79 -8v4m4 -4v6m3.5 -5.5h1m2.5 -.5v4m1.5 -3.5h1m7.5 -.5v4m.5 -3.5h2m28 0h4m17.5 -.5v2m65 -2v5m3 -5v6m4 -6v5m5 -5v3
m3 -3v4m21.5 -3.5h3m41 0h1m28 0h3m11.5 -.5v3m2 -3v9m5 -9v10m.5 -9.5h1m2.5 -.5v7m3 -7v8m43 -8v7m9 -7v2m4.5 -1.5h3m4.5 -.5v4m2.5 -3.5h2m12.5 -.5v2m5 -2v3m14 -3v2m5.5 -1.5h1
m-595.5 .5v7m14 -7v8m10.5 -7.5h1m5 0h1m74 0h1m25.5 -.5v3m4 -3v7m65 -7v7m18.5 -6.5h1m9.5 -.5v2m6 -2v4m29 -4v3m1 -3v5m6 -5v5m1 -5v7m1 -7v2m4.5 -1.5h2m2.5 -.5v7m8 -7v9m4 -9v7m26 -7v7
m13 -7v9m9 -9v11m9 -11v2m5 -2v8m7 -8v7m9.5 -6.5h1m9 0h4m45 0h1m29 0h1m2 0h2m16.5 -.5v2m6 -2v4m19 -4v6m25 -6v3m1 -3v4m3 -4v4m4 -4v7m5 -7v3m1 -3v2m9 -2v3m42 -3v3m3 -3v5m1 -5v4
m2.5 -3.5h2m-624.5 .5v5m4 -5v10m22 -10v7m8 -7v2m5.5 -1.5h2m105.5 -.5v6m.5 -5.5h1m64.5 -.5v7m68 -7v4m3 -4v3m1 -3v2m7 -2v4m2.5 -3.5h3m4.5 -.5v7m4 -7v10m19 -10v5m38 -5v5m7 -5v5m2 -5v3
m25.5 -2.5h3m50 0h1m31 0h3m1.5 -.5v2m14.5 -1.5h1m9.5 -.5v10m9 -10v5m4 -5v3m5 -3v6m4 -6v4m3 -4v10m1 -10v4m3 -4v10m1 -10v6m11 -6v6m10 -6v6m41.5 -5.5h1m16 0h4m-601.5 .5v8m3 -8v5
m1 -5v6m4 -6v4m.5 -3.5h1m2 0h1m1 0h2m7 0h1m77 0h1m24 0h1m4.5 -.5v6m29 -6v7m31 -7v3m7 -3v7m5 -7v3m51 -3v2m18.5 -1.5h2m2 0h1m5.5 -.5v5m13 -5v9m29 -9v7m7 -7v7m9 -7v2m22.5 -1.5h1m6 0h3
m54 0h1m36 0h1m1.5 -.5v2m37 -2v5m11 -5v10m3.5 -9.5h2m2.5 -.5v6m1 -6v9m2 -9v3m19 -3v3m29 -3v2m27.5 -1.5h6m-612.5 .5v3m4 -3v8m22.5 -7.5h1m101.5 -.5v5m14 -5v6m24 -6v14m15 -14v5m7 -5v7
m1 -7v4m7 -4v4m3 -4v7m.5 -6.5h2m1 0h1m74.5 -.5v6m4.5 -5.5h1m1.5 -.5v2m4 -2v6m1 -6v3m6 -3v3m1 -3v6m20 -6v4m8 -4v8m13 -8v2m4 -2v8m3.5 -7.5h2m11 0h2m5 0h2m3 0h4m60 0h1m36 0h2
m1.5 -.5v4m1 -4v2m12 -2v4m1 -4v3m2 -3v6m8 -6v3m3 -3v3m1 -3v4m6 -4v3m3 -3v4m1 -4v5m2 -5v3m7.5 -2.5h2m67.5 -.5v5m-611 -4v4m5 -4v3m9 -3v9m1 -9v6m2 -6v5m12 -5v3m2.5 -2.5h2m8 0h1m84 0h1
m25.5 -.5v2m2 -2v8m1 -8v8m1 -8v4m1 -4v4m4 -4v4m5 -4v5m4 -5v3m15 -3v2m2 -2v8m4 -8v8m11 -8v3m2 -3v3m5 -3v2m3 -2v5m97 -5v10m7 -10v3m3 -3v4m1 -4v7m2 -7v7m3 -7v4m7 -4v2m8 -2v7m4 -7v5
m2 -5v7m9 -7v8m2 -8v7m5 -7v2m1.5 -1.5h2m5.5 -.5v4m3.5 -3.5h2m6.5 -.5v2m2.5 -1.5h3m102 0h1m3 0h1m2 0h2m12.5 -.5v4m10 -4v2m12 -2v3m8 -3v3m-547 -2v8m8 -8v3m3 -3v8m12 -8v4m5 -4v9
m103.5 -8.5h1m30.5 -.5v2m5 -2v3m2 -3v4m14 -4v5m11 -5v7m3 -7v3m10 -3v2m5 -2v7m1.5 -6.5h1m8.5 -.5v3m92 -3v4m.5 -3.5h2m7.5 -.5v3m7 -3v4m3 -4v7m2 -7v4m4 -4v6m2 -6v7m3 -7v4m9 -4v6
m14 -6v4m7.5 -3.5h2m6 0h1m2 0h2m70 0h1m41 0h3m4.5 -.5v2m3 -2v3m2.5 -2.5h1m6.5 -.5v6m4.5 -5.5h1m1.5 -.5v4m4 -4v6m-551 -5v3m1 -3v7m2 -7v3m7 -3v4m9 -4v12m8 -12v4m2 -4v4m5 -4v7
m25.5 -6.5h1m89 0h2m29.5 -.5v4m3 -4v6m14 -6v4m7 -4v11m3 -11v7m8 -7v3m6 -3v8m1 -8v6m112 -6v5m3.5 -4.5h1m16.5 -.5v3m34.5 -2.5h2m4 0h4m1 0h1m76 0h1m1 0h2m52.5 -.5v2m2 -2v6m1 -6v3
m-532 -2v7m5 -7v7m1 -7v4m3 -4v10m3 -10v6m13 -6v3m10 -3v6m16.5 -5.5h2m126.5 -.5v2m3 -2v5m1 -5v3m1 -3v5m2 -5v5m1 -5v3m2 -3v5m1 -5v5m5 -5v3m14.5 -2.5h4m100.5 -.5v6m12.5 -5.5h1m10 0h1
m2.5 -.5v10m1 -10v4m2 -4v5m1 -5v4m11 -4v4m12 -4v4m11 -4v2m1.5 -1.5h3m1 0h1m2 0h3m2 0h1m82 0h1m45 0h1m3.5 -.5v6m-537 -5v3m1 -3v6m5 -6v9m7 -9v3m7 -3v9m6 -9v5m1 -5v9m10 -9v3m4 -3v2
m1.5 -1.5h1m17 0h1m96 0h1m25.5 -.5v5m11.5 -4.5h1m2.5 -.5v9m4 -9v4m1 -4v4m3 -4v4m3.5 -3.5h1m2.5 -.5v4m1 -4v4m3 -4v4m4 -4v4m2 -4v5m19.5 -4.5h1m113 0h1m2 0h2m1.5 -.5v5m7 -5v9
m2.5 -8.5h1m1.5 -.5v6m2 -6v4m4 -4v3m3 -3v4m1.5 -3.5h3m2 0h4m3 0h2m89 0h1m1 0h1m50 0h1m1 0h6m1 0h3m-581 1h26m3.5 -.5v2m5 -2v4m4 -4v8m24 -8v2m19.5 -1.5h1m1 0h1m102 0h2m1 0h2
m55.5 -.5v3m26 -3v8m247.5 -7.5h4m2.5 -.5v2m2.5 -1.5h2m1 0h3m2.5 -.5v2m2 -2v2m2.5 -1.5h2m37 0h5m1.5 -.5v2m2 -2v2m1.5 -1.5h6m1 0h6m39 0h36m-636.5 .5v3m17 -3v3m16.5 -2.5h3m112.5 -.5v2
m5 -2v2m2.5 -1.5h4m5.5 -.5v2m2.5 -1.5h2m3.5 -.5v2m17 -2v2m3 -2v2m7.5 -1.5h2m2.5 -.5v8m2 -8v2m3 -2v2m97.5 -1.5h4m1 0h4m1 0h3m1 0h4m1 0h1m1 0h1m1 0h3m2 0h1m3 0h5m5 0h1m1 0h1m2 0h3
m4 0h1m6 0h114m1 0h10m1 0h1m1 0h13m1 0h7m2 0h2m2 0h2m1 0h10m1 0h5m5 0h6m1 0h13m1 0h31m-615.5 .5v3m16 -3v3m47.5 -2.5h100m1 0h2m1 0h1m1 0h8m2 0h1m2 0h3m1 0h2m1 0h1m1 0h1m1 0h1m1 0h1
m3 0h1m2 0h2m12 0h2m8 0h5m1 0h12m1 0h77m-322 1h2m2 0h1m1.5 -.5v5m2 -5v5m1.5 -4.5h2m1 0h1m7 0h2m2 0h4m1 0h1m1 0h3m2 0h5m1 0h3m1 0h16m-92 3h32m1 0h2m1.5 -.5v2m2.5 -1.5h6m2 0h2m1 0h3
m1 0h171m1 0h9m2 0h12m1 0h23m1 0h104m1 0h18m1 0h284m-682 1h32m1 0h2m4 0h6m2 0h2m1 0h3m1 0h171m1 0h9m2 0h12m1 0h23m1 0h104m1 0h18m1 0h284m-641.5 .5v4m1 -4v4m42 -4v9m1 -9v9m41 -9v4
m1 -4v4m42 -4v9m1 -9v9m42 -9v4m1 -4v4m41 -4v9m1 -9v9m42 -9v4m1 -4v4m42 -4v9m1 -9v9m41 -9v4m1 -4v4m42 -4v9m1 -9v9m41 -9v4m1 -4v4m42 -4v9m1 -9v9m42 -9v4m1 -4v4m41 -4v9m1 -9v9m42 -9v4
m1 -4v4m42 -4v9m1 -9v9"/>
</g>
</g>
<g id="labels" filter="url(#softt)">
<text x="405.8" y="84.0" font-size="64.0" textLength="176.0" lengthAdjust="spacing">Cu 2p</text>
<text x="584.0" y="112.6" font-size="40.5" textLength="56.0" lengthAdjust="spacing">3/2</text>
<text x="1235.8" y="218.8" font-size="64.0" textLength="179.5" lengthAdjust="spacing">Cu 2p</text>
<text x="1415.0" y="245.0" font-size="40.5" textLength="58.0" lengthAdjust="spacing">1/2</text>
<text x="752.5" y="244.1" font-size="47.0" textLength="209.0" lengthAdjust="spacing" font-style="italic">shake up</text>
<text x="1613.5" y="255.1" font-size="47.0" textLength="209.0" lengthAdjust="spacing" font-style="italic">shake up</text>
<text x="1475.5" y="163.8" font-size="65.0" textLength="290.0" lengthAdjust="spacing">CuMn 2:1</text>
<text x="1422.0" y="498.9" font-size="65.0" textLength="393.5" lengthAdjust="spacing">Au/CuMn 2:1</text>
<text x="1506.0" y="771.3" font-size="65.0" textLength="290.0" lengthAdjust="spacing">CuMn 1:5</text>
<text x="1407.0" y="994.0" font-size="65.0" textLength="391.0" lengthAdjust="spacing">Au/CuMn 1:5</text>
<text x="135.2" y="1222.6" font-size="62.0" textLength="102.0" lengthAdjust="spacing" text-anchor="middle">925</text>
<text x="346.8" y="1222.6" font-size="62.0" textLength="102.0" lengthAdjust="spacing" text-anchor="middle">930</text>
<text x="559.9" y="1222.6" font-size="62.0" textLength="102.0" lengthAdjust="spacing" text-anchor="middle">935</text>
<text x="774.4" y="1222.6" font-size="62.0" textLength="102.0" lengthAdjust="spacing" text-anchor="middle">940</text>
<text x="987.0" y="1222.6" font-size="62.0" textLength="102.0" lengthAdjust="spacing" text-anchor="middle">945</text>
<text x="1200.0" y="1222.6" font-size="62.0" textLength="102.0" lengthAdjust="spacing" text-anchor="middle">950</text>
<text x="1414.5" y="1222.6" font-size="62.0" textLength="102.0" lengthAdjust="spacing" text-anchor="middle">955</text>
<text x="1626.0" y="1222.6" font-size="62.0" textLength="102.0" lengthAdjust="spacing" text-anchor="middle">960</text>
<text x="1840.5" y="1222.6" font-size="62.0" textLength="102.0" lengthAdjust="spacing" text-anchor="middle">965</text>
<text x="653.6" y="1326.6" font-size="60.0" textLength="577.0" lengthAdjust="spacing" font-weight="bold">Binding Energy (eV)</text>
<text x="0.0" y="0.0" font-size="67.5" textLength="440.0" lengthAdjust="spacingAndGlyphs" font-weight="bold" transform="translate(87.5,804.8) rotate(-90)">Intensity (a. u.)</text>
</g>
</svg>
</body></html>
